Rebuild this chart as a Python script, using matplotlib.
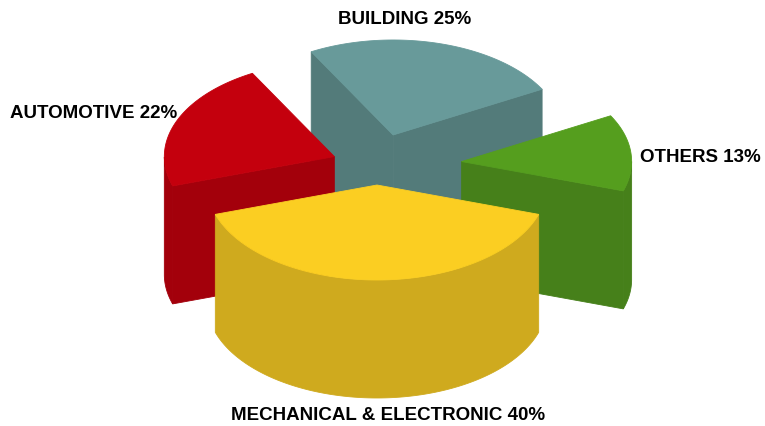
import numpy as np
import matplotlib.pyplot as plt
from matplotlib.patches import Polygon

# market share by sector, counter-clockwise from the building slice
labels = ['BUILDING', 'AUTOMOTIVE', 'MECHANICAL & ELECTRONIC', 'OTHERS']
shares = [25, 22, 40, 13]
explode = [0.34, 0.27, 0.2, 0.5]

top_colors = ['#689a9a', '#c4000d', '#fbce22', '#559e1e']
side_colors = ['#537b7a', '#a3000b', '#cfaa1e', '#46801a']

# label placement (pixels) and alignment
label_xy = [(405, 20), (10, 113), (388, 415), (640, 158)]
label_ha = ['center', 'left', 'center', 'left']

start_angle = 28.8
cx, cy = 377, 166          # pie centre in pixels
rx, ry, depth = 170, 95, 118


def arc(x0, y0, a, b, n=120, z=0):
    t = np.radians(np.linspace(a, b, n))
    return np.column_stack([x0 + rx*np.cos(t), y0 - ry*np.sin(t) + z])


fig = plt.figure(figsize=(7.65, 4.26), dpi=100)
ax = fig.add_axes([0, 0, 1, 1])
ax.set_xlim(0, 765)
ax.set_ylim(426, 0)
ax.axis('off')

bounds = start_angle + 3.6*np.concatenate([[0], np.cumsum(shares)])
slices = []
for i in range(len(shares)):
    a0, a1 = bounds[i], bounds[i+1]
    mid = np.radians((a0 + a1)/2)
    x0 = cx + explode[i]*rx*np.cos(mid)
    y0 = cy - explode[i]*ry*np.sin(mid)
    slices.append((np.sin(mid), i, a0, a1, x0, y0))

# painter's order: back slices first
for s, i, a0, a1, x0, y0 in sorted(slices, reverse=True):
    side = side_colors[i]
    faces = []
    # radial walls facing the viewer
    for ang, vis in [(a0, np.cos(np.radians(a0)) > 0), (a1, np.cos(np.radians(a1)) < 0)]:
        if vis:
            p = arc(x0, y0, ang, ang, 1)[0]
            faces.append([(x0, y0), tuple(p), (p[0], p[1]+depth), (x0, y0+depth)])
    # outer curved wall, front half only
    t = np.linspace(a0, a1, 300)
    front = np.sin(np.radians(t)) < 0
    if front.any():
        idx = np.where(front)[0]
        runs = np.split(idx, np.where(np.diff(idx) > 1)[0] + 1)
        for r in runs:
            ta, tb = t[r[0]], t[r[-1]]
            up = arc(x0, y0, ta, tb)
            down = arc(x0, y0, tb, ta, z=depth)
            faces.append(np.vstack([up, down]))
    for f in faces:
        ax.add_patch(Polygon(f, closed=True, facecolor=side, edgecolor=side, lw=0.6))
    top = np.vstack([[x0, y0], arc(x0, y0, a0, a1)])
    ax.add_patch(Polygon(top, closed=True, facecolor=top_colors[i], edgecolor=top_colors[i], lw=0.6))

for i in range(len(labels)):
    ax.text(label_xy[i][0], label_xy[i][1], f'{labels[i]} {shares[i]}%',
            ha=label_ha[i], va='center', fontsize=13.5, fontweight='bold',
            family='Liberation Sans', color='black')

fig.savefig('out.png', dpi=100, facecolor='white')
